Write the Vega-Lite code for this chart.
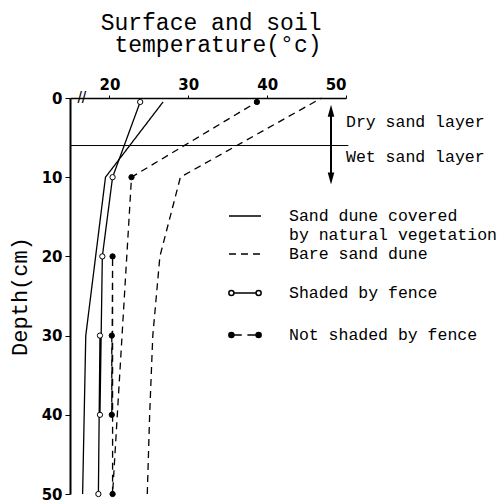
{
  "$schema": "https://vega.github.io/schema/vega-lite/v6.json",
  "width": 276,
  "height": 396,
  "autosize": {"type": "none"},
  "padding": {"left": 70, "top": 98, "right": 155, "bottom": 8},
  "background": "white",
  "config": {"view": {"stroke": null}},
  "datasets": {
    "profiles": [
      {"series": "Sand dune covered by natural vegetation", "depth": 0.5, "temp": 26.8},
      {"series": "Sand dune covered by natural vegetation", "depth": 10, "temp": 19.5},
      {"series": "Sand dune covered by natural vegetation", "depth": 30, "temp": 17.0},
      {"series": "Sand dune covered by natural vegetation", "depth": 50, "temp": 16.6},
      {"series": "Bare sand dune", "depth": 0, "temp": 46.9},
      {"series": "Bare sand dune", "depth": 10, "temp": 29.0},
      {"series": "Bare sand dune", "depth": 20, "temp": 26.4},
      {"series": "Bare sand dune", "depth": 30, "temp": 25.5},
      {"series": "Bare sand dune", "depth": 40, "temp": 25.1},
      {"series": "Bare sand dune", "depth": 50, "temp": 24.8},
      {"series": "Shaded by fence", "depth": 0.5, "temp": 23.9},
      {"series": "Shaded by fence", "depth": 10, "temp": 20.4},
      {"series": "Shaded by fence", "depth": 20, "temp": 19.1},
      {"series": "Shaded by fence", "depth": 30, "temp": 18.8},
      {"series": "Shaded by fence", "depth": 40, "temp": 18.8},
      {"series": "Shaded by fence", "depth": 50, "temp": 18.6},
      {"series": "Not shaded by fence", "depth": 0.5, "temp": 38.7},
      {"series": "Not shaded by fence", "depth": 10, "temp": 22.8},
      {"series": "Not shaded by fence", "depth": 20, "temp": 20.4},
      {"series": "Not shaded by fence", "depth": 30, "temp": 20.3},
      {"series": "Not shaded by fence", "depth": 40, "temp": 20.3},
      {"series": "Not shaded by fence", "depth": 50, "temp": 20.4}
    ],
    "layers": [
      {"label": "Dry sand layer", "depth": 3.0},
      {"label": "Wet sand layer", "depth": 7.5}
    ],
    "boundary": [
      {"depth": 6, "from": 15, "to": 50.3}
    ],
    "span": [
      {"temp": 48.1, "top": 1.6, "bottom": 10.15}
    ]
  },
  "layer": [
    {
      "data": {"name": "profiles"},
      "mark": {"type": "line", "color": "black", "strokeWidth": 1.3},
      "encoding": {
        "x": {
          "field": "temp", "type": "quantitative",
          "scale": {"domain": [15, 50], "nice": false, "zero": false},
          "axis": {
            "orient": "top",
            "values": [20, 30, 40, 50],
            "grid": false,
            "tickSize": 3,
            "tickColor": "black",
            "domainColor": "black",
            "domainWidth": 1.5,
            "labelFont": "DejaVu Sans",
            "labelFontWeight": "bold",
            "labelFontSize": 15,
            "labelColor": "black",
            "labelPadding": 3,
            "title": ["Surface and soil", "temperature(°c)"],
            "titleFont": "Liberation Mono",
            "titleFontWeight": "normal",
            "titleFontSize": 23,
            "titleLineHeight": 22,
            "titleColor": "black",
            "titleAlign": "right",
            "titleX": 251,
            "titlePadding": 21
          }
        },
        "y": {
          "field": "depth", "type": "quantitative",
          "scale": {"domain": [0, 50], "reverse": true, "nice": false},
          "axis": {
            "values": [0, 10, 20, 30, 40, 50],
            "grid": false,
            "tickSize": 5,
            "tickColor": "black",
            "domainColor": "black",
            "domainWidth": 2,
            "labelFont": "DejaVu Sans",
            "labelFontWeight": "bold",
            "labelFontSize": 15,
            "labelColor": "black",
            "labelPadding": 3,
            "title": "Depth(cm)",
            "titleFont": "Liberation Mono",
            "titleFontWeight": "normal",
            "titleFontSize": 22,
            "titleColor": "black",
            "titlePadding": 10
          }
        },
        "detail": {"field": "series"},
        "strokeDash": {
          "field": "series", "type": "nominal",
          "scale": {
            "domain": ["Sand dune covered by natural vegetation", "Bare sand dune", "Shaded by fence", "Not shaded by fence"],
            "range": [[1, 0], [7, 5], [1, 0], [7, 5]]
          },
          "legend": {
            "values": ["Sand dune covered by natural vegetation", "Bare sand dune"],
            "orient": "none",
            "legendX": 166,
            "legendY": 109,
            "title": null,
            "padding": 0,
            "labelFont": "Liberation Mono",
            "labelFontSize": 16.5,
            "labelColor": "black",
            "labelOffset": 35,
            "labelLimit": 0,
            "rowPadding": 2,
            "symbolSize": 256,
            "symbolType": "M-2,0L2,0",
            "symbolStrokeColor": "black",
            "symbolStrokeWidth": 1.5,
            "labelExpr": "datum.value === 'Sand dune covered by natural vegetation' ? ['Sand dune covered', 'by natural vegetation'] : datum.label"
          }
        }
      }
    },
    {
      "data": {"name": "profiles"},
      "transform": [{"filter": "datum.series === 'Shaded by fence' || datum.series === 'Not shaded by fence'"}],
      "mark": {"type": "point", "shape": "circle", "size": 28, "filled": true, "stroke": "black", "strokeWidth": 1, "opacity": 1},
      "encoding": {
        "x": {"field": "temp", "type": "quantitative"},
        "y": {"field": "depth", "type": "quantitative"},
        "fill": {"condition": {"test": "datum.series === 'Shaded by fence'", "value": "white"}, "value": "black"}
      }
    },
    {
      "data": {"name": "profiles"},
      "transform": [{"filter": "datum.depth < 0"}],
      "mark": {"type": "point", "filled": true, "strokeWidth": 1.5},
      "encoding": {
        "x": {"field": "temp", "type": "quantitative"},
        "y": {"field": "depth", "type": "quantitative"},
        "shape": {
          "field": "series", "type": "nominal",
          "scale": {
            "domain": ["Shaded by fence", "Not shaded by fence"],
            "range": [
              "M-2.02,0A0.32,0.32 0 1,0 -1.38,0A0.32,0.32 0 1,0 -2.02,0ZM-1.38,0L1.38,0M1.38,0A0.32,0.32 0 1,0 2.02,0A0.32,0.32 0 1,0 1.38,0Z",
              "M-2.02,0A0.32,0.32 0 1,0 -1.38,0A0.32,0.32 0 1,0 -2.02,0ZM-1.38,0L-0.4,0M0.3,0L1.38,0M1.38,0A0.32,0.32 0 1,0 2.02,0A0.32,0.32 0 1,0 1.38,0Z"
            ]
          },
          "legend": {
            "orient": "none",
            "legendX": 166,
            "legendY": 186,
            "title": null,
            "padding": 0,
            "labelFont": "Liberation Mono",
            "labelFontSize": 16.5,
            "labelColor": "black",
            "labelOffset": 35,
            "labelLimit": 0,
            "rowPadding": 24,
            "symbolSize": 256,
            "symbolOpacity": 1,
            "symbolStrokeWidth": 1.5
          }
        },
        "fill": {
          "field": "series", "type": "nominal",
          "scale": {"domain": ["Shaded by fence", "Not shaded by fence"], "range": ["white", "black"]},
          "legend": {
            "orient": "none",
            "legendX": 166,
            "legendY": 186,
            "title": null,
            "padding": 0,
            "labelFont": "Liberation Mono",
            "labelFontSize": 16.5,
            "labelColor": "black",
            "labelOffset": 35,
            "labelLimit": 0,
            "rowPadding": 24,
            "symbolSize": 256,
            "symbolOpacity": 1,
            "symbolStrokeWidth": 1.5
          }
        },
        "stroke": {
          "field": "series", "type": "nominal",
          "scale": {"domain": ["Shaded by fence", "Not shaded by fence"], "range": ["black", "black"]},
          "legend": {
            "orient": "none",
            "legendX": 166,
            "legendY": 186,
            "title": null,
            "padding": 0,
            "labelFont": "Liberation Mono",
            "labelFontSize": 16.5,
            "labelColor": "black",
            "labelOffset": 35,
            "labelLimit": 0,
            "rowPadding": 24,
            "symbolSize": 256,
            "symbolOpacity": 1,
            "symbolStrokeWidth": 1.5
          }
        }
      }
    },
    {
      "data": {"name": "boundary"},
      "mark": {"type": "rule", "color": "black", "strokeWidth": 1},
      "encoding": {
        "y": {"field": "depth", "type": "quantitative"},
        "x": {"field": "from", "type": "quantitative"},
        "x2": {"field": "to"}
      }
    },
    {
      "data": {"name": "span"},
      "mark": {"type": "rule", "color": "black", "strokeWidth": 2},
      "encoding": {
        "x": {"field": "temp", "type": "quantitative"},
        "y": {"field": "top", "type": "quantitative"},
        "y2": {"field": "bottom"}
      }
    },
    {
      "data": {"name": "span"},
      "mark": {"type": "point", "shape": "M0,-1L0.55,1L-0.55,1Z", "size": 144, "filled": true, "color": "black", "opacity": 1},
      "encoding": {"x": {"field": "temp", "type": "quantitative"}, "y": {"field": "top", "type": "quantitative"}}
    },
    {
      "data": {"name": "span"},
      "mark": {"type": "point", "shape": "M0,1L0.55,-1L-0.55,-1Z", "size": 144, "filled": true, "color": "black", "opacity": 1},
      "encoding": {"x": {"field": "temp", "type": "quantitative"}, "y": {"field": "bottom", "type": "quantitative"}}
    },
    {
      "data": {"name": "layers"},
      "mark": {"type": "text", "align": "left", "baseline": "middle", "font": "Liberation Mono", "fontSize": 16.5, "color": "black"},
      "encoding": {
        "x": {"datum": 50},
        "y": {"field": "depth", "type": "quantitative"},
        "text": {"field": "label"}
      }
    },
    {
      "data": {"name": "boundary"},
      "mark": {"type": "text", "text": "//", "font": "Liberation Sans", "fontSize": 16, "color": "black", "align": "center", "baseline": "middle"},
      "encoding": {"x": {"datum": 16.5}, "y": {"datum": 0}}
    }
  ]
}
